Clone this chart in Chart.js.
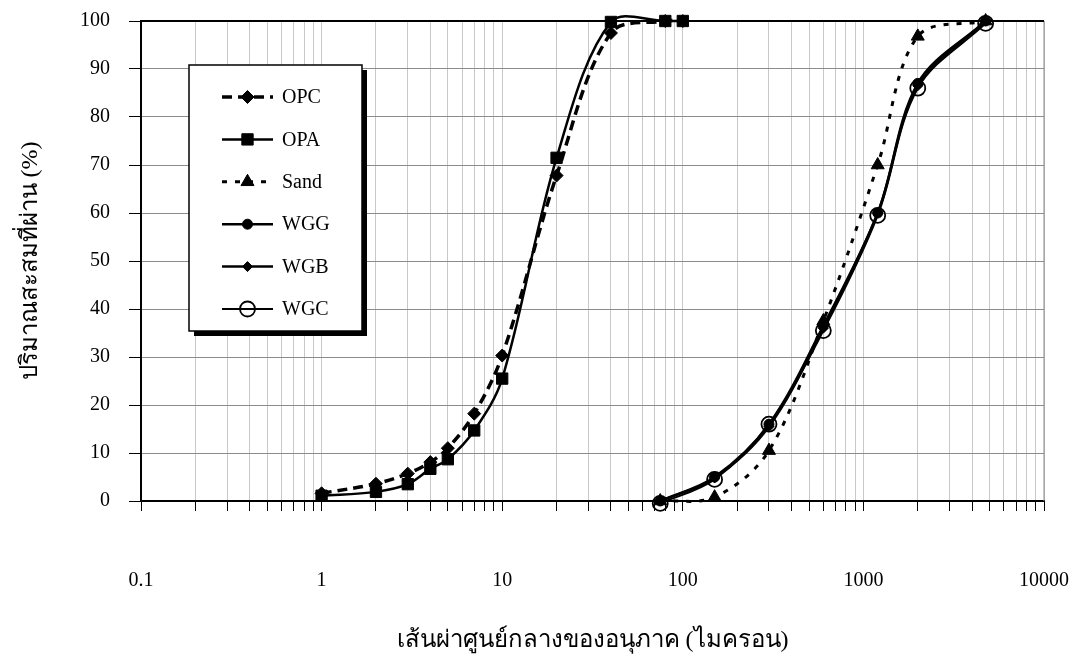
<!DOCTYPE html>
<html><head><meta charset="utf-8">
<script src="https://cdn.jsdelivr.net/npm/chart.js@4/dist/chart.umd.min.js"></script>
<style>html,body{margin:0;padding:0;background:#fff;}#wrap{width:1087px;height:661px;position:relative;}</style>
</head><body><div id="wrap"><canvas id="c"></canvas></div>
<script>
// ---- data ----
const opcX = [1, 2, 3, 4, 5, 7, 10, 20, 40, 80, 100];
const opcY = [1.6, 3.6, 5.7, 8.1, 11, 18.2, 30.3, 67.8, 97.5, 100, 100];
const opaX = [1, 2, 3, 4, 5, 7, 10, 20, 40, 80, 100];
const opaY = [1.1, 1.9, 3.5, 6.7, 8.7, 14.7, 25.5, 71.5, 99.8, 100, 100];
const sandX = [75, 150, 300, 600, 1200, 2000, 4750];
const sandY = [0, 0.8, 10.5, 37.5, 70, 96.8, 100];
const wgX = [75, 150, 300, 600, 1200, 2000, 4750];
const wggY = [0, 5, 16, 36.5, 60, 87, 100];
const wgbY = [0, 4.8, 15.5, 36, 60, 86.5, 100];
const wgcY = [-0.5, 4.5, 16, 35.5, 59.5, 86, 99.5];
const seriesNames = ['OPC', 'OPA', 'Sand', 'WGG', 'WGB', 'WGC'];
const xTickValues = [0.1, 1, 10, 100, 1000, 10000];
const xTickLabels = ['0.1', '1', '10', '100', '1000', '10000'];
const yMin = 0, yMax = 100, yStep = 10;
const xTitle = 'เส้นผ่าศูนย์กลางของอนุภาค (ไมครอน)';
const yTitle = 'ปริมาณสะสมที่ผ่าน (%)';

const pts = (xs, ys) => xs.map((x, i) => ({x: x, y: ys[i]}));

// grid positions 1..9 per decade
const gridVals = [];
for (let d = 0; d < xTickValues.length - 1; d++) {
  for (let m = 1; m <= 9; m++) gridVals.push(+(xTickValues[d] * m).toPrecision(6));
}
gridVals.push(xTickValues[xTickValues.length - 1]);

const SERIF = "'Liberation Serif','Times New Roman',serif";

const base = {showLine: true, tension: 0.34, capBezierPoints: false, borderColor: '#000', backgroundColor: '#000', pointBorderColor: '#000', clip: false, fill: false};
const datasets = [
  Object.assign({}, base, {label: seriesNames[0], data: pts(opcX, opcY), borderWidth: 3.5, borderDash: [10, 6], pointStyle: 'rectRot', pointRadius: 6.5, pointBackgroundColor: '#000', pointBorderWidth: 1}),
  Object.assign({}, base, {label: seriesNames[1], data: pts(opaX, opaY), borderWidth: 2.5, borderDash: [], pointStyle: 'rect', pointRadius: 8, pointBackgroundColor: '#000', pointBorderWidth: 1}),
  Object.assign({}, base, {label: seriesNames[2], data: pts(sandX, sandY), borderWidth: 3, borderDash: [5, 8], pointStyle: 'triangle', pointRadius: 7.5, pointBackgroundColor: '#000', pointBorderWidth: 1}),
  Object.assign({}, base, {label: seriesNames[3], data: pts(wgX, wggY), borderWidth: 2.5, borderDash: [], pointStyle: 'circle', pointRadius: 5, pointBackgroundColor: '#000', pointBorderWidth: 1}),
  Object.assign({}, base, {label: seriesNames[4], data: pts(wgX, wgbY), borderWidth: 2.5, borderDash: [], pointStyle: 'rectRot', pointRadius: 5, pointBackgroundColor: '#000', pointBorderWidth: 1}),
  Object.assign({}, base, {label: seriesNames[5], data: pts(wgX, wgcY), borderWidth: 2, borderDash: [], pointStyle: 'circle', pointRadius: 7.5, pointBackgroundColor: 'rgba(0,0,0,0)', pointBorderWidth: 1.8})
];

function drawMarker(ctx, ds, x, y) {
  ctx.save();
  ctx.setLineDash([]);
  ctx.fillStyle = ds.pointBackgroundColor;
  ctx.strokeStyle = '#000';
  ctx.lineWidth = ds.pointBorderWidth;
  Chart.helpers.drawPoint(ctx, {pointStyle: ds.pointStyle, radius: ds.pointRadius, rotation: 0, borderWidth: ds.pointBorderWidth}, x, y);
  ctx.restore();
}

const framePlugin = {
  id: 'frame',
  beforeDatasetsDraw(chart) {
    const a = chart.chartArea, ctx = chart.ctx;
    ctx.save();
    ctx.strokeStyle = '#888'; ctx.lineWidth = 1;
    ctx.beginPath(); ctx.moveTo(a.right, a.top); ctx.lineTo(a.right, a.bottom); ctx.stroke();
    ctx.strokeStyle = '#000'; ctx.lineWidth = 2;
    ctx.beginPath(); ctx.moveTo(a.left, a.top); ctx.lineTo(a.right, a.top); ctx.stroke();
    ctx.restore();
  }
};

const legendPlugin = {
  id: 'boxLegend',
  afterDatasetsDraw(chart) {
    const ctx = chart.ctx;
    const bx = 189, by = 65, bw = 173, bh = 266;
    ctx.save();
    ctx.fillStyle = '#000'; ctx.fillRect(bx + 5, by + 5, bw, bh);
    ctx.fillStyle = '#fff'; ctx.fillRect(bx, by, bw, bh);
    ctx.strokeStyle = '#000'; ctx.lineWidth = 1.5; ctx.strokeRect(bx, by, bw, bh);
    ctx.font = '20px ' + SERIF;
    ctx.textBaseline = 'middle'; ctx.textAlign = 'left';
    chart.data.datasets.forEach((ds, i) => {
      const y = 97 + i * 42.4;
      ctx.save();
      ctx.strokeStyle = '#000'; ctx.lineWidth = ds.borderWidth;
      ctx.setLineDash(ds.borderDash || []);
      ctx.beginPath(); ctx.moveTo(222, y); ctx.lineTo(273, y); ctx.stroke();
      ctx.restore();
      drawMarker(ctx, ds, 247.5, y);
      ctx.fillStyle = '#000';
      ctx.fillText(ds.label, 282, y + 1);
    });
    ctx.restore();
  }
};

function xLabel(v) {
  for (let i = 0; i < xTickValues.length; i++) {
    if (Math.abs(Math.log10(v) - Math.log10(xTickValues[i])) < 1e-6) return xTickLabels[i];
  }
  return '';
}

new Chart(document.getElementById('c'), {
  type: 'scatter',
  data: {datasets: datasets},
  plugins: [framePlugin, legendPlugin],
  options: {
    responsive: true, maintainAspectRatio: false, animation: false,
    layout: {padding: {left: 0, right: 43, top: 21, bottom: 0}},
    plugins: {legend: {display: false}, tooltip: {enabled: false}},
    scales: {
      x: {
        type: 'logarithmic', min: xTickValues[0], max: xTickValues[xTickValues.length - 1],
        afterBuildTicks: s => { s.ticks = gridVals.map(v => ({value: v})); },
        afterFit: s => { s.height = 160; s.paddingLeft = 0; s.paddingRight = 0; },
        ticks: {autoSkip: false, maxRotation: 0, padding: 58, color: '#000', font: {family: SERIF, size: 20}, callback: v => xLabel(v)},
        grid: {color: '#c8c8c8', lineWidth: 1, tickLength: 10, tickColor: '#000', tickWidth: 1},
        border: {color: '#000', width: 2},
        title: {display: true, text: xTitle, color: '#000', font: {family: SERIF, size: 24}, padding: {top: 0, bottom: 6}}
      },
      y: {
        type: 'linear', min: yMin, max: yMax,
        afterFit: s => { s.width = 141; s.paddingTop = 0; s.paddingBottom = 0; },
        ticks: {stepSize: yStep, padding: 19, color: '#000', font: {family: SERIF, size: 20}},
        grid: {color: '#8c8c8c', lineWidth: 1, tickLength: 12, tickColor: '#000', tickWidth: 1},
        border: {color: '#000', width: 2},
        title: {display: true, text: yTitle, color: '#000', font: {family: SERIF, size: 24}, padding: {top: 16, bottom: 0}}
      }
    }
  }
});
</script></body></html>
